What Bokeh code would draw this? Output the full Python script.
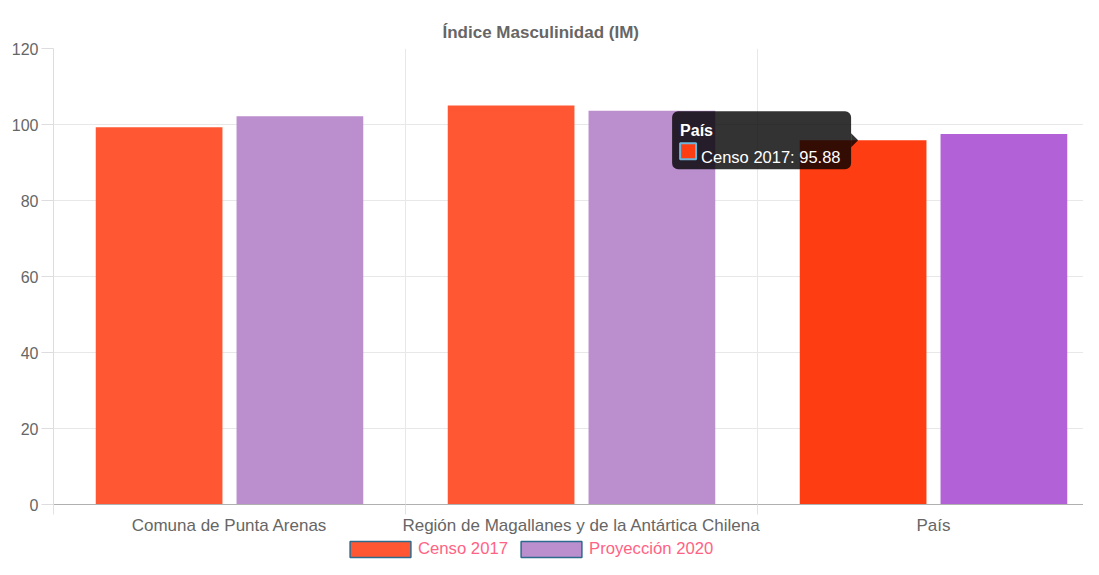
from bokeh.plotting import figure
from bokeh.layouts import column
from bokeh.models import Range1d, FixedTicker, Label, BoxAnnotation, Legend, LegendItem
from bokeh.embed import file_html
from bokeh.resources import INLINE

# ---- data ----
title_text = "Índice Masculinidad (IM)"
categories = ["Comuna de Punta Arenas", "Región de Magallanes y de la Antártica Chilena", "País"]
series_names = ["Censo 2017", "Proyección 2020"]
censo_2017 = [99.3, 105.0, 95.88]
proyeccion_2020 = [102.2, 103.6, 97.5]
y_ticks = [0, 20, 40, 60, 80, 100, 120]
hovered = 2  # category under the mouse (tooltip shown)

# ---- styles ----
FONT = "Liberation Sans"
censo_color, censo_hover = "#FF5733", "#FF3D12"
proy_color, proy_hover = "#BB8FCE", "#B262D6"
legend_border = "#2d6b8e"

W = 1083
H_MAIN, H_LEG = 539, 20
FL, FT, FB = 53, 48, 35
CAT_PX = 352.0
frame_w = W - FL
x_end = frame_w / CAT_PX
PX_Y = (H_MAIN - FT - FB) / 120.0

p = figure(width=W, height=H_MAIN, output_backend="svg", toolbar_location=None,
           x_range=Range1d(0, x_end), y_range=Range1d(0, 120),
           min_border_left=FL, min_border_right=0, min_border_top=FT, min_border_bottom=FB)
p.outline_line_color = None
p.background_fill_color = "white"

# title
p.title.text = title_text
p.title.align = "left"
p.title.offset = 389
p.title.standoff = 13
p.title.text_font = FONT
p.title.text_font_size = "17px"
p.title.text_font_style = "bold"
p.title.text_color = "#666666"

n = len(categories)
slot = 0.8 / 2
bw = slot * 0.9
x_c = [i + 0.5 - slot / 2 for i in range(n)]
x_p = [i + 0.5 + slot / 2 for i in range(n)]
c_cols = [censo_hover if i == hovered else censo_color for i in range(n)]
p_cols = [proy_hover if i == hovered else proy_color for i in range(n)]

p.vbar(x=x_c, top=censo_2017, width=bw, fill_color=c_cols, line_color=None)
p.vbar(x=x_p, top=proyeccion_2020, width=bw, fill_color=p_cols, line_color=None)

# axes
xa = p.xaxis[0]
xa.ticker = FixedTicker(ticks=[i + 0.5 for i in range(n)], minor_ticks=list(range(n + 1)))
xa.major_label_overrides = {i + 0.5: categories[i] for i in range(n)}
xa.major_tick_out = 0
xa.major_tick_in = 0
xa.minor_tick_out = 10
xa.minor_tick_in = 0
xa.minor_tick_line_color = "#e2e2e2"
xa.axis_line_color = "#b0b0b0"
xa.major_label_standoff = 1
xa.major_label_text_font = FONT
xa.major_label_text_font_size = "17px"
xa.major_label_text_color = "#666666"

ya = p.yaxis[0]
ya.ticker = FixedTicker(ticks=y_ticks)
ya.major_tick_out = 12
ya.major_tick_in = 0
ya.minor_tick_out = 0
ya.minor_tick_in = 0
ya.axis_line_color = "#dddddd"
ya.major_tick_line_color = "#dddddd"
ya.major_label_standoff = 3
ya.major_label_text_font = FONT
ya.major_label_text_font_size = "16px"
ya.major_label_text_color = "#666666"

p.ygrid.ticker = FixedTicker(ticks=[t for t in y_ticks if 0 < t < 120])
p.ygrid.grid_line_color = "#e8e8e8"
p.xgrid.ticker = FixedTicker(ticks=list(range(1, n)))
p.xgrid.grid_line_color = "#e8e8e8"

# tooltip
tip_x = x_c[hovered] - 5 / CAT_PX
tip_y = censo_2017[hovered]
right = tip_x - 7 / CAT_PX
left = right - 179 / CAT_PX
p.add_layout(BoxAnnotation(left=left, right=right, top=tip_y + 29 / PX_Y, bottom=tip_y - 29 / PX_Y,
                           fill_color="black", fill_alpha=0.8, line_alpha=0, border_radius=6))
p.patch([right, tip_x, right], [tip_y + 7 / PX_Y, tip_y, tip_y - 7 / PX_Y],
        fill_color="black", fill_alpha=0.8, line_alpha=0)
p.add_layout(Label(x=left + 8 / CAT_PX, y=tip_y + 10 / PX_Y, text=categories[hovered],
                   text_baseline="alphabetic", text_font=FONT, text_font_size="16px",
                   text_font_style="bold", text_color="white"))
p.add_layout(BoxAnnotation(left=left + 8 / CAT_PX, right=left + 24 / CAT_PX,
                           top=tip_y - 3 / PX_Y, bottom=tip_y - 19 / PX_Y,
                           fill_color=censo_hover, fill_alpha=1, line_color="#6fb6dc",
                           line_alpha=1, line_width=2))
p.add_layout(Label(x=left + 29 / CAT_PX, y=tip_y - 17 / PX_Y,
                   text=f"{series_names[0]}: {censo_2017[hovered]:.2f}",
                   text_baseline="alphabetic", text_font=FONT, text_font_size="16.5px",
                   text_color="white"))

# ---- legend strip (separate small figure below) ----
leg = figure(width=W, height=H_LEG, output_backend="svg", toolbar_location=None,
             x_axis_type=None, y_axis_type=None, x_range=Range1d(0, 1), y_range=Range1d(0, 1),
             min_border=0, min_border_left=0, min_border_right=0, min_border_top=0, min_border_bottom=0)
leg.outline_line_color = None
leg.grid.visible = False
r1 = leg.vbar(x=[0.5], top=[1], width=0.1, fill_color=censo_color, line_color=legend_border,
              line_width=1.5, visible=False)
r2 = leg.vbar(x=[0.5], top=[1], width=0.1, fill_color=proy_color, line_color=legend_border,
              line_width=1.5, visible=False)
legend = Legend(items=[LegendItem(label=series_names[0], renderers=[r1]),
                       LegendItem(label=series_names[1], renderers=[r2])],
                orientation="horizontal", location=(289, 0),
                glyph_width=76, glyph_height=20, label_height=18, label_standoff=0, spacing=5,
                padding=0, margin=0, border_line_color=None, background_fill_alpha=0,
                inactive_fill_alpha=0,
                label_text_color="#ff6384", label_text_font=FONT, label_text_font_size="16.7px")
leg.add_layout(legend)

layout = column(p, leg, spacing=0)
open("out.html", "w").write(file_html(layout, INLINE))
